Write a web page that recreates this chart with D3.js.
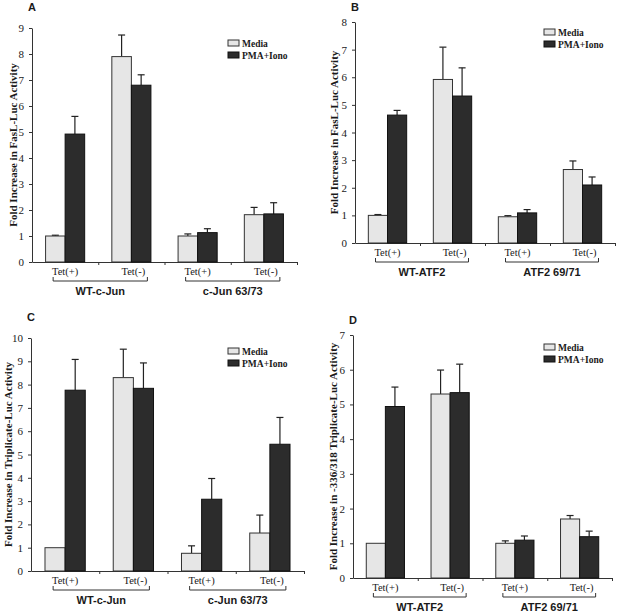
<!DOCTYPE html>
<html lang="en">
<head>
    <meta charset="UTF-8">
    <title>Fold increase in luciferase activity</title>
    <script src="https://d3js.org/d3.v7.min.js"></script>
    <style>
        body {
            margin: 0;
            padding: 0;
            background-color: #ffffff;
        }
        svg text {
            fill: #1a1a1a;
        }
    </style>
</head>
<body>
    <svg id="chart" width="617" height="614"></svg>

    <script>
        // categories and series
        const categories = ["Tet(+)", "Tet(-)", "Tet(+)", "Tet(-)"];
        const seriesNames = ["Media", "PMA+Iono"];
        const groupsJun = ["WT-c-Jun", "c-Jun 63/73"];
        const groupsAtf = ["WT-ATF2", "ATF2 69/71"];

        // panel A - FasL-Luc, c-Jun
        const mediaA = [1.0, 7.9, 1.0, 1.82];
        const mediaErrA = [0.03, 0.83, 0.08, 0.28];
        const pmaA = [4.92, 6.8, 1.13, 1.85];
        const pmaErrA = [0.68, 0.4, 0.15, 0.43];

        // panel B - FasL-Luc, ATF2
        const mediaB = [1.0, 5.92, 0.95, 2.66];
        const mediaErrB = [0.03, 1.17, 0.04, 0.31];
        const pmaB = [4.63, 5.32, 1.09, 2.1];
        const pmaErrB = [0.17, 1.02, 0.12, 0.29];

        // panel C - Triplicate-Luc, c-Jun
        const mediaC = [1.0, 8.3, 0.76, 1.63];
        const mediaErrC = [0, 1.22, 0.32, 0.77];
        const pmaC = [7.76, 7.84, 3.08, 5.44];
        const pmaErrC = [1.32, 1.09, 0.89, 1.15];

        // panel D - -336/318 Triplicate-Luc, ATF2
        const mediaD = [1.0, 5.3, 1.0, 1.7];
        const mediaErrD = [0, 0.69, 0.07, 0.1];
        const pmaD = [4.94, 5.34, 1.09, 1.19];
        const pmaErrD = [0.56, 0.82, 0.12, 0.16];

        const svg = d3.select("#chart");
        const serif = "'Liberation Serif', 'Times New Roman', serif";
        const sans = "'Liberation Sans', Arial, sans-serif";
        const fills = ["#e6e6e6", "#2c2c2c"];
        const strokes = ["#333", "#111"];

        const panels = [
            { label: "A", x0: 32, x1: 297, yTop: 28, yBase: 262, yMax: 9,
              title: "Fold Increase in FasL-Luc Activity", titleX: 13,
              media: mediaA, mediaErr: mediaErrA, pma: pmaA, pmaErr: pmaErrA,
              groups: groupsJun, legX: 228, legY: 40 },
            { label: "B", x0: 355, x1: 615, yTop: 22, yBase: 243, yMax: 8,
              title: "Fold Increase in FasL-Luc Activity", titleX: 334,
              media: mediaB, mediaErr: mediaErrB, pma: pmaB, pmaErr: pmaErrB,
              groups: groupsAtf, legX: 544, legY: 29 },
            { label: "C", x0: 31, x1: 304, yTop: 338, yBase: 571, yMax: 10,
              title: "Fold Increase in Triplicate-Luc Activity", titleX: 8,
              media: mediaC, mediaErr: mediaErrC, pma: pmaC, pmaErr: pmaErrC,
              groups: groupsJun, legX: 228, legY: 348 },
            { label: "D", x0: 353, x1: 612, yTop: 335, yBase: 578, yMax: 7,
              title: "Fold Increase in -336/318 Triplicate-Luc Activity", titleX: 333,
              media: mediaD, mediaErr: mediaErrD, pma: pmaD, pmaErr: pmaErrD,
              groups: groupsAtf, legX: 544, legY: 344 }
        ];

        const drawPanel = (p) => {
            const g = svg.append("g");

            const y = d3.scaleLinear().domain([0, p.yMax]).range([p.yBase, p.yTop]);
            const x = d3.scaleBand().domain(d3.range(categories.length)).range([p.x0, p.x1]);
            const bw = x.bandwidth() * 0.295;
            const center = (i) => x(i) + x.bandwidth() / 2;

            // y axis
            const yAxis = g.append("g")
                .attr("transform", `translate(${p.x0},0)`)
                .call(d3.axisLeft(y).ticks(p.yMax).tickSize(3).tickSizeOuter(0).tickPadding(5));
            yAxis.selectAll("text")
                .attr("font-family", serif)
                .attr("font-size", "11px")
                .attr("fill", "#222");
            yAxis.selectAll("line, path").attr("stroke", "#333");

            // x axis with ticks on band boundaries
            const xLin = d3.scaleLinear().domain([p.x0, p.x1]).range([p.x0, p.x1]);
            const bounds = d3.range(1, categories.length + 1).map((i) => p.x0 + i * x.step());
            const xAxis = g.append("g")
                .attr("transform", `translate(0,${p.yBase})`)
                .call(d3.axisBottom(xLin).tickValues(bounds).tickFormat("").tickSize(3).tickSizeOuter(0));
            xAxis.selectAll("line, path").attr("stroke", "#333");

            // bars
            const rows = categories.map((c, i) => [
                { i, s: 0, v: p.media[i], e: p.mediaErr[i] },
                { i, s: 1, v: p.pma[i], e: p.pmaErr[i] }
            ]).flat();

            const barX = (d) => center(d.i) + (d.s === 0 ? -bw : 0);

            // error bars (upper only)
            const err = rows.filter((d) => d.e > 0);
            g.selectAll(".err")
                .data(err)
                .enter()
                .append("line")
                .attr("x1", (d) => barX(d) + bw / 2)
                .attr("x2", (d) => barX(d) + bw / 2)
                .attr("y1", (d) => y(d.v))
                .attr("y2", (d) => y(d.v + d.e))
                .attr("stroke", "#222")
                .attr("stroke-width", 1.2);
            g.selectAll(".cap")
                .data(err)
                .enter()
                .append("line")
                .attr("x1", (d) => barX(d) + bw / 2 - 3.5)
                .attr("x2", (d) => barX(d) + bw / 2 + 3.5)
                .attr("y1", (d) => y(d.v + d.e))
                .attr("y2", (d) => y(d.v + d.e))
                .attr("stroke", "#222")
                .attr("stroke-width", 1.2);

            g.selectAll(".bar")
                .data(rows)
                .enter()
                .append("rect")
                .attr("x", barX)
                .attr("y", (d) => y(d.v))
                .attr("width", bw)
                .attr("height", (d) => p.yBase - y(d.v))
                .attr("fill", (d) => fills[d.s])
                .attr("stroke", (d) => strokes[d.s])
                .attr("stroke-width", 1);

            // category labels
            g.selectAll(".cat")
                .data(categories)
                .enter()
                .append("text")
                .attr("x", (d, i) => center(i) + (i % 2 === 0 ? 0 : 2))
                .attr("y", p.yBase + 13)
                .attr("text-anchor", "middle")
                .attr("font-family", serif)
                .attr("font-size", "10.5px")
                .text((d) => d);

            // brackets and group names
            p.groups.forEach((name, k) => {
                const left = center(k * 2) - 12;
                const right = center(k * 2 + 1) + 16;
                const by = p.yBase + 19;
                g.append("path")
                    .attr("d", `M${left},${by - 4}V${by}H${right}V${by - 4}`)
                    .attr("fill", "none")
                    .attr("stroke", "#333")
                    .attr("stroke-width", 1);
                g.append("text")
                    .attr("x", (left + right) / 2)
                    .attr("y", p.yBase + 33)
                    .attr("text-anchor", "middle")
                    .attr("font-family", sans)
                    .attr("font-weight", "bold")
                    .attr("font-size", "11px")
                    .text(name);
            });

            // y axis title
            g.append("text")
                .attr("transform", `translate(${p.titleX + 4},${(p.yTop + p.yBase) / 2}) rotate(-90)`)
                .attr("text-anchor", "middle")
                .attr("font-family", serif)
                .attr("font-weight", "bold")
                .attr("font-size", "11px")
                .text(p.title);

            // panel letter
            g.append("text")
                .attr("x", p.x0)
                .attr("y", p.yTop - (p.label === "A" || p.label === "C" ? 17 : 11))
                .attr("text-anchor", "middle")
                .attr("font-family", sans)
                .attr("font-weight", "bold")
                .attr("font-size", "11px")
                .text(p.label);

            // legend
            seriesNames.forEach((s, k) => {
                const ly = p.legY + k * 12;
                g.append("rect")
                    .attr("x", p.legX)
                    .attr("y", ly)
                    .attr("width", 11)
                    .attr("height", 6)
                    .attr("fill", fills[k])
                    .attr("stroke", strokes[k]);
                g.append("text")
                    .attr("x", p.legX + 14)
                    .attr("y", ly + 6.5)
                    .attr("font-family", serif)
                    .attr("font-weight", "bold")
                    .attr("font-size", "9.5px")
                    .text(s);
            });
        };

        panels.forEach(drawPanel);
    </script>
</body>
</html>
